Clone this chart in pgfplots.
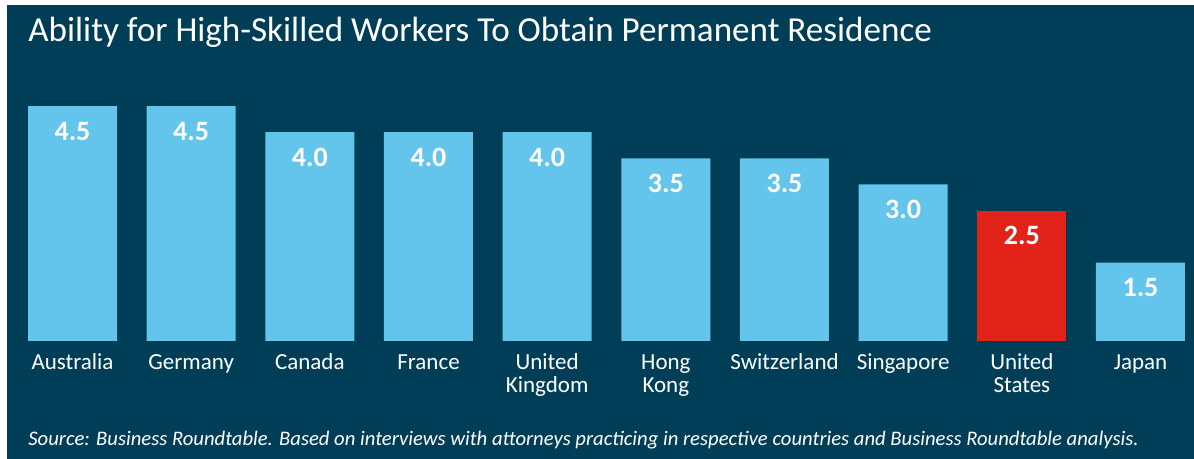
\documentclass[border=0pt]{standalone}
\usepackage{fontspec}
\setmainfont{Carlito}
\usepackage{pgfplots}
\pgfplotsset{compat=1.18}
\definecolor{bg}{RGB}{0,62,87}
\definecolor{barblue}{RGB}{99,197,235}
\definecolor{barred}{RGB}{226,35,26}
\begin{document}
\begin{tikzpicture}[x=1pt,y=1pt]
\useasboundingbox (0,0) rectangle (597,-229.5);
\fill[white] (0,0) rectangle (597,-229.5);
\fill[bg] (3.5,-2.5) rectangle (597,-229.5);
\node[anchor=base west, inner sep=0, text=white, font=\fontsize{17.55}{20}\selectfont] at (14,-21) {Ability for High-Skilled Workers To Obtain Permanent Residence};
\node[anchor=base west, inner sep=0, text=white, font=\fontsize{10.33}{12}\selectfont\itshape] at (14,-222.5) {Source: Business Roundtable. Based on interviews with attorneys practicing in respective countries and Business Roundtable analysis.};
\begin{axis}[
  at={(36.25pt,-170.5pt)}, anchor=origin,
  scale only axis, width=587.4pt, height=130.5pt,
  xmin=-0.45, xmax=9.45, ymin=0, ymax=5,
  axis lines=none,
  clip=false,
  ybar, bar width=0.75, bar shift=0pt,
  xtick={0,...,9},
  nodes near coords,
  nodes near coords style={text=white, font=\fontsize{14}{16}\selectfont\bfseries, anchor=base, yshift=-17pt,
    /pgf/number format/.cd, fixed, precision=1, zerofill, assume math mode=true},
]
\addplot[fill=barblue, draw=none] coordinates {(0,4.5) (1,4.5) (2,4.0) (3,4.0) (4,4.0) (5,3.5) (6,3.5) (7,3.0) (9,1.5)};
\addplot[fill=barred, draw=none] coordinates {(8,2.5)};
\end{axis}
\begin{scope}[font=\fontsize{11.5}{11.5}\selectfont, text=white]
\foreach \x/\l/\m in {0/Australia/, 1/Germany/, 2/Canada/, 3/France/, 4/United/Kingdom, 5/Hong/Kong, 6/Switzerland/, 7/Singapore/, 8/United/States, 9/Japan/} {
  \node[anchor=base, inner sep=0, text=white] at ({36.25+\x*59.335},-185) {\l};
  \node[anchor=base, inner sep=0, text=white] at ({36.25+\x*59.335},-196.5) {\m};
}
\end{scope}
\end{tikzpicture}
\end{document}
